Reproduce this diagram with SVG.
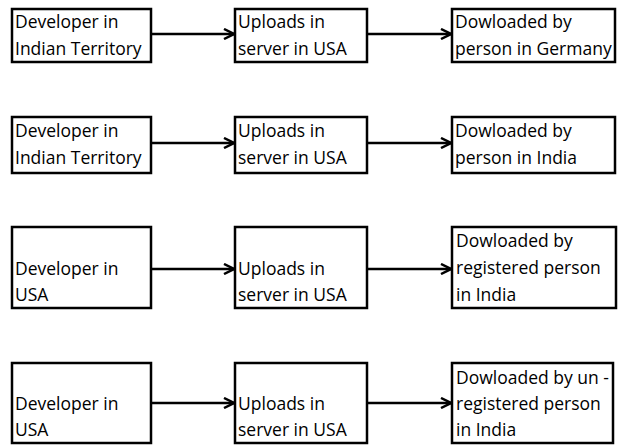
<svg xmlns="http://www.w3.org/2000/svg" width="620" height="445" viewBox="0 0 620 445">
<style>
.box{fill:#fff;stroke:#000;stroke-width:2.5}
.t{font-family:"Open Sans","Liberation Sans",sans-serif;font-size:17.5px;fill:#000}
.c{stroke:#000;stroke-width:2.5;fill:none}
</style>
<defs>
<marker id="ah" viewBox="0 0 12 12" refX="11" refY="6" markerWidth="12" markerHeight="12" markerUnits="userSpaceOnUse" orient="auto">
<path d="M1,1 L11,6 L1,11" fill="none" stroke="#000" stroke-width="2.5"/>
</marker>
</defs>
<g id="connectors">
<line class="c" x1="151" y1="34" x2="234" y2="34" marker-end="url(#ah)"/>
<line class="c" x1="367" y1="34" x2="451" y2="34" marker-end="url(#ah)"/>
<line class="c" x1="151" y1="143" x2="234" y2="143" marker-end="url(#ah)"/>
<line class="c" x1="367" y1="143" x2="451" y2="143" marker-end="url(#ah)"/>
<line class="c" x1="151" y1="269" x2="234" y2="269" marker-end="url(#ah)"/>
<line class="c" x1="367" y1="269" x2="451" y2="269" marker-end="url(#ah)"/>
<line class="c" x1="151" y1="403" x2="234" y2="403" marker-end="url(#ah)"/>
<line class="c" x1="367" y1="403" x2="451" y2="403" marker-end="url(#ah)"/>
</g>
<g id="r1a"><rect class="box" x="12" y="9" width="139" height="53"/><text class="t" x="15" y="28">Developer in</text><text class="t" x="15" y="55">Indian Territory</text></g>
<g id="r1b"><rect class="box" x="235" y="9" width="132" height="53"/><text class="t" x="238" y="28">Uploads in</text><text class="t" x="238" y="55">server in USA</text></g>
<g id="r1c"><rect class="box" x="452" y="9" width="163" height="53"/><text class="t" x="455" y="28">Dowloaded by</text><text class="t" x="455" y="55">person in Germany</text></g>

<g id="r2a"><rect class="box" x="12" y="117" width="139" height="56"/><text class="t" x="15" y="137">Developer in</text><text class="t" x="15" y="164">Indian Territory</text></g>
<g id="r2b"><rect class="box" x="235" y="117" width="132" height="56"/><text class="t" x="238" y="137">Uploads in</text><text class="t" x="238" y="164">server in USA</text></g>
<g id="r2c"><rect class="box" x="452" y="117" width="163" height="56"/><text class="t" x="455" y="137">Dowloaded by</text><text class="t" x="455" y="164">person in India</text></g>

<g id="r3a"><rect class="box" x="12" y="227" width="139" height="81"/><text class="t" x="15" y="275">Developer in</text><text class="t" x="15" y="301">USA</text></g>
<g id="r3b"><rect class="box" x="235" y="227" width="132" height="81"/><text class="t" x="238" y="275">Uploads in</text><text class="t" x="238" y="301">server in USA</text></g>
<g id="r3c"><rect class="box" x="452" y="227" width="164" height="81"/><text class="t" x="456" y="247">Dowloaded by</text><text class="t" x="456" y="274">registered person</text><text class="t" x="456" y="301">in India</text></g>

<g id="r4a"><rect class="box" x="12" y="363" width="139" height="80"/><text class="t" x="15" y="410">Developer in</text><text class="t" x="15" y="436">USA</text></g>
<g id="r4b"><rect class="box" x="235" y="363" width="132" height="80"/><text class="t" x="238" y="410">Uploads in</text><text class="t" x="238" y="436">server in USA</text></g>
<g id="r4c"><rect class="box" x="452" y="363" width="161" height="80"/><text class="t" x="456" y="384">Dowloaded by un -</text><text class="t" x="456" y="410">registered person</text><text class="t" x="456" y="436">in India</text></g>
</svg>
